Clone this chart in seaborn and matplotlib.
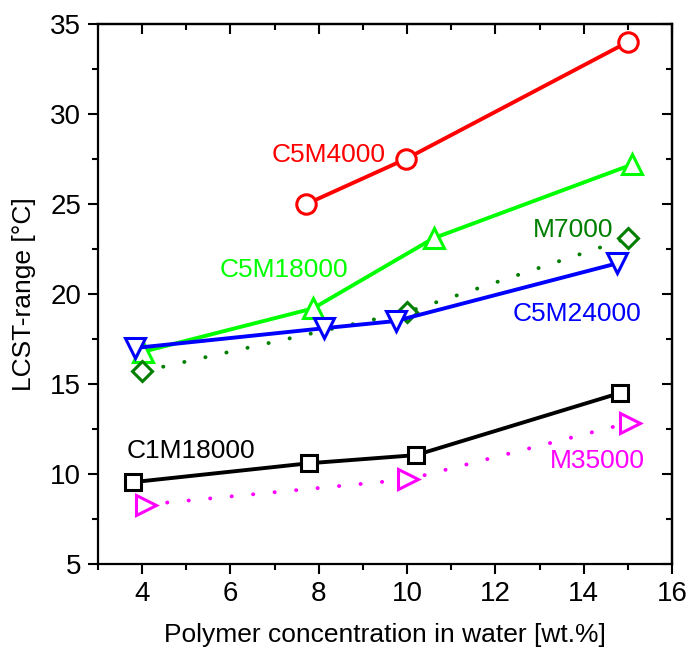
import seaborn as sns
import pandas as pd
import matplotlib.pyplot as plt
from matplotlib.ticker import MultipleLocator

# values
c5m4000_x = [7.72, 9.97, 15.0]
c5m4000_y = [25.0, 27.5, 34.0]

c5m18000_x = [4.03, 7.87, 10.6, 15.1]
c5m18000_y = [16.8, 19.2, 23.1, 27.2]

m7000_x = [4.0, 10.0, 15.0]
m7000_y = [15.7, 19.0, 23.1]

c5m24000_x = [3.83, 8.12, 9.74, 14.75]
c5m24000_y = [17.0, 18.1, 18.5, 21.7]

c1m18000_x = [3.8, 7.79, 10.2, 14.82]
c1m18000_y = [9.55, 10.6, 11.05, 14.5]

m35000_x = [4.08, 10.02, 15.04]
m35000_y = [8.3, 9.7, 12.85]

sns.set_theme(style="white")
plt.rcParams["font.family"] = ["Liberation Sans", "DejaVu Sans"]

fig = plt.figure(figsize=(6.88, 6.5), dpi=100)
ax = fig.add_axes([0.1424, 0.1323, 0.8343, 0.8307])

dotted = (0, (0.05, 5.5))

series = [
    # x, y, colour, marker, size, linestyle
    (c5m4000_x, c5m4000_y, "#ff0000", "o", 14, "-"),
    (c5m18000_x, c5m18000_y, "#00ff00", "^", 15, "-"),
    (m7000_x, m7000_y, "#007f00", "D", 10, dotted),
    (c5m24000_x, c5m24000_y, "#0000ff", "v", 15, "-"),
    (c1m18000_x, c1m18000_y, "#000000", "s", 12, "-"),
    (m35000_x, m35000_y, "#ff00ff", ">", 14, dotted),
]

for xs, ys, col, mk, ms, ls in series:
    df = pd.DataFrame({"x": xs, "y": ys})
    sns.lineplot(data=df, x="x", y="y", ax=ax, color=col, marker=mk,
                 markersize=ms, markerfacecolor="white", markeredgecolor=col,
                 markeredgewidth=2.2, linewidth=2.8, linestyle=ls,
                 dash_capstyle="round")

# series labels
lab_kw = dict(fontsize=19, va="center")
ax.text(6.93, 27.7, "C5M4000", color="#ff0000", **lab_kw)
ax.text(5.76, 21.35, "C5M18000", color="#00ff00", **lab_kw)
ax.text(12.84, 23.57, "M7000", color="#007f00", **lab_kw)
ax.text(12.4, 18.9, "C5M24000", color="#0000ff", **lab_kw)
ax.text(3.65, 11.3, "C1M18000", color="#000000", **lab_kw)
ax.text(13.24, 10.7, "M35000", color="#ff00ff", **lab_kw)

ax.set_xlim(3, 16)
ax.set_ylim(5, 35)
ax.xaxis.set_major_locator(MultipleLocator(2))
ax.xaxis.set_minor_locator(MultipleLocator(1))
ax.yaxis.set_major_locator(MultipleLocator(5))
ax.yaxis.set_minor_locator(MultipleLocator(2.5))
ax.tick_params(which="both", direction="out", bottom=True, left=True,
               width=1.5, labelsize=20, colors="black", pad=5)
ax.tick_params(which="major", length=7)
ax.tick_params(which="minor", length=4)

# mirrored ticks pointing inwards on top and right
top = ax.secondary_xaxis("top")
top.xaxis.set_major_locator(MultipleLocator(2))
top.xaxis.set_minor_locator(MultipleLocator(1))
top.tick_params(which="both", direction="in", width=1.5, labeltop=False, colors="black")
top.tick_params(which="major", length=7)
top.tick_params(which="minor", length=4)
right = ax.secondary_yaxis("right")
right.yaxis.set_major_locator(MultipleLocator(5))
right.yaxis.set_minor_locator(MultipleLocator(2.5))
right.tick_params(which="both", direction="in", width=1.5, labelright=False, colors="black")
right.tick_params(which="major", length=7)
right.tick_params(which="minor", length=4)

for sp in ax.spines.values():
    sp.set_linewidth(1.6)
    sp.set_color("black")
top.spines["top"].set_linewidth(1.6)
top.spines["top"].set_color("black")
right.spines["right"].set_linewidth(1.6)
right.spines["right"].set_color("black")

ax.set_xlabel("Polymer concentration in water [wt.%]", fontsize=19, labelpad=12, color="black")
ax.set_ylabel("LCST-range [°C]", fontsize=19, labelpad=10, color="black")

fig.savefig("out.png", dpi=100)
